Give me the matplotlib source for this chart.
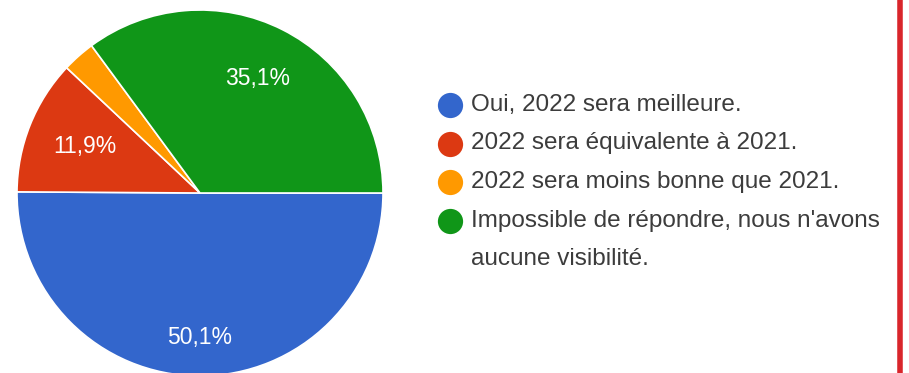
import numpy as np
import matplotlib
matplotlib.use("Agg")
import matplotlib.pyplot as plt

plt.rcParams['font.family'] = ['Liberation Sans', 'DejaVu Sans']

# Données
reponses = [
    "Oui, 2022 sera meilleure.",
    "2022 sera équivalente à 2021.",
    "2022 sera moins bonne que 2021.",
    "Impossible de répondre, nous n'avons\naucune visibilité.",
]
pourcentages = [50.1, 11.9, 2.9, 35.1]
etiquettes = ["50,1%", "11,9%", "", "35,1%"]
couleurs = ["#3366cc", "#dc3912", "#ff9900", "#109618"]

fig = plt.figure(figsize=(9.09, 3.73), dpi=100)
W, H = 909, 373

# Camembert
cx, cy, R = 200, 193, 183
ax = fig.add_axes([(cx - R) / W, (H - cy - R) / H, 2 * R / W, 2 * R / H])
parts, _ = ax.pie(pourcentages, colors=couleurs, startangle=0, counterclock=False,
                  radius=1, wedgeprops=dict(edgecolor="white", linewidth=1.2))
ax.set_xlim(-1, 1)
ax.set_ylim(-1, 1)
ax.set_aspect("equal")
ax.axis("off")

# Pourcentages dans les parts
distances = [0.79, 0.68, 0.7, 0.7]
for p, txt, d in zip(parts, etiquettes, distances):
    if not txt:
        continue
    a = np.deg2rad((p.theta1 + p.theta2) / 2)
    ax.text(d * np.cos(a), d * np.sin(a), txt, ha="center", va="center",
            color="white", fontsize=16.5)

# Légende (axe en pixels sur toute la figure)
leg = fig.add_axes([0, 0, 1, 1], facecolor="none")
leg.set_xlim(0, W)
leg.set_ylim(H, 0)
leg.axis("off")
y0, pas = 105, 38.5
ligne = 0
for rep, c in zip(reponses, couleurs):
    leg.scatter([450], [y0 + pas * ligne], s=330, color=c, linewidths=0)
    for morceau in rep.split("\n"):
        leg.text(471, y0 + pas * ligne, morceau, ha="left", va="center",
                 fontsize=17.5, color="#3c3c3c")
        ligne += 1

# Trait rouge à droite
leg.plot([900, 900], [0, H], color="#d9252b", linewidth=4)

fig.savefig("out.png", dpi=100)
